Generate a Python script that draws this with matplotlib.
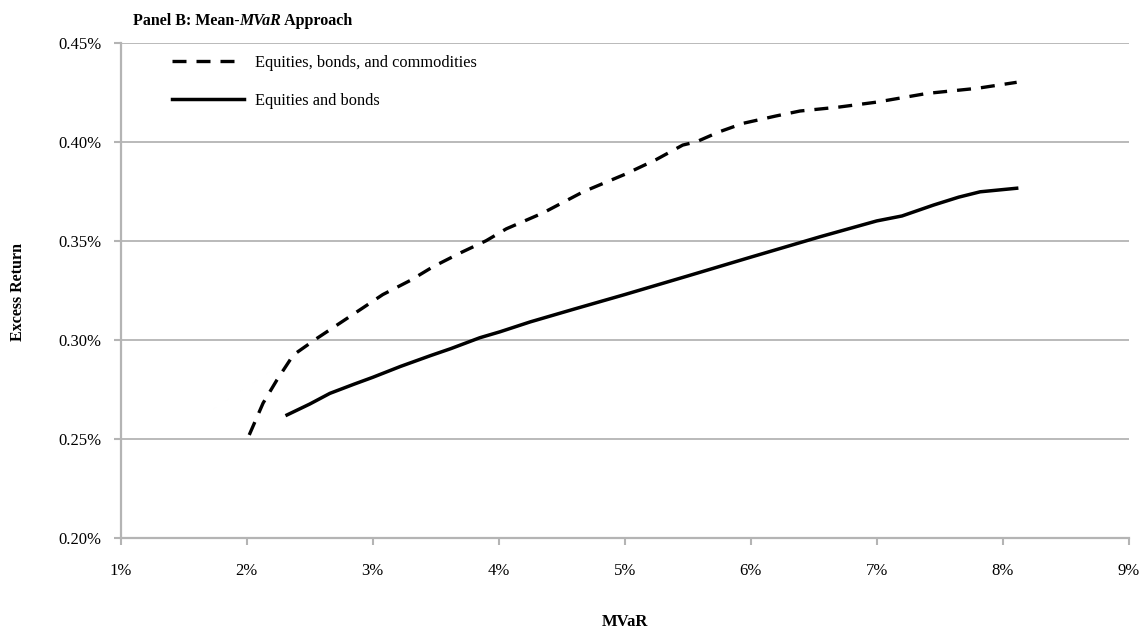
import matplotlib.pyplot as plt
from matplotlib.ticker import FuncFormatter

# values (x: MVaR in %, y: excess return in %)
mvar_ebc = [2.02, 2.13, 2.24, 2.37, 2.56, 2.74, 2.92, 3.08, 3.30, 3.48, 3.70,
            3.90, 4.06, 4.35, 4.67, 5.00, 5.25, 5.46, 5.57, 5.75, 5.94, 6.20,
            6.39, 6.70, 7.00, 7.40, 7.80, 8.11]
ret_ebc = [0.2519, 0.2680, 0.2797, 0.2923, 0.3008, 0.3084, 0.3160, 0.3228,
           0.3300, 0.3369, 0.3440, 0.3500, 0.3560, 0.3640, 0.3747, 0.3835,
           0.3910, 0.3983, 0.4000, 0.4050, 0.4093, 0.4130, 0.4155, 0.4175,
           0.4200, 0.4244, 0.4270, 0.4300]

mvar_eb = [2.32, 2.50, 2.66, 2.85, 3.00, 3.22, 3.46, 3.62, 3.85, 4.01, 4.25,
           4.60, 5.00, 5.17, 5.50, 6.00, 6.55, 7.00, 7.20, 7.45, 7.65, 7.82,
           8.11]
ret_eb = [0.2620, 0.2675, 0.2729, 0.2775, 0.2810, 0.2865, 0.2920, 0.2955,
          0.3010, 0.3040, 0.3090, 0.3155, 0.3228, 0.3260, 0.3322, 0.3417,
          0.3520, 0.3600, 0.3625, 0.3680, 0.3720, 0.3747, 0.3765]

x_ticks = [1, 2, 3, 4, 5, 6, 7, 8, 9]
y_ticks = [0.20, 0.25, 0.30, 0.35, 0.40, 0.45]

plt.rcParams['font.family'] = ['Liberation Serif', 'DejaVu Serif']

fig = plt.figure(figsize=(11.43, 6.30), dpi=100)
ax = fig.add_axes([0.1056, 0.1465, 0.882, 0.7857])

grid_col = '#b4b4b4'
ax.plot(mvar_ebc, ret_ebc, color='black', linewidth=2.4, dashes=(4.2, 3.0),
        label='Equities, bonds, and commodities', dash_joinstyle='round')
ax.plot(mvar_eb, ret_eb, color='black', linewidth=2.5,
        label='Equities and bonds', solid_joinstyle='round')

ax.set_xlim(1, 9)
ax.set_ylim(0.20, 0.45)
ax.set_xticks(x_ticks)
ax.set_yticks(y_ticks)
ax.xaxis.set_major_formatter(FuncFormatter(lambda v, p: f"{v:.0f}%"))
ax.yaxis.set_major_formatter(FuncFormatter(lambda v, p: f"{v:.2f}%"))
ax.tick_params(axis='both', colors=grid_col, labelcolor='black', labelsize=12,
               length=5, width=1.5)
ax.tick_params(axis='x', pad=13)
ax.tick_params(axis='y', pad=9)

ax.yaxis.grid(True, color=grid_col, linewidth=1.3)
ax.set_axisbelow(True)
for s in ['top', 'right']:
    ax.spines[s].set_visible(False)
for s in ['left', 'bottom']:
    ax.spines[s].set_color(grid_col)
    ax.spines[s].set_linewidth(1.6)

ax.legend(loc='upper left', bbox_to_anchor=(0.036, 1.005), frameon=False,
          fontsize=11.8, handlelength=4.4, labelspacing=1.35, handletextpad=0.7)

fig.text(0.016, 0.536, 'Excess Return', rotation=90, fontsize=11.5,
         fontweight='bold', ha='center', va='center')
fig.text(0.547, 1 - 622 / 630, 'MVaR', fontsize=12, fontweight='bold',
         ha='center', va='center')

# title in pieces: bold + bold italic + bold
fig.canvas.draw()
r = fig.canvas.get_renderer()
x0, y0 = 133 / 1143, 1 - 21 / 630
parts = [('Panel B: Mean-', 'normal'), ('MVaR', 'italic'), (' Approach', 'normal')]
for txt, style in parts:
    t = fig.text(x0, y0, txt, fontsize=11.5, fontweight='bold', fontstyle=style,
                 ha='left', va='center')
    bb = t.get_window_extent(renderer=r)
    x0 += bb.width / fig.bbox.width

fig.savefig('out.png', dpi=100)
